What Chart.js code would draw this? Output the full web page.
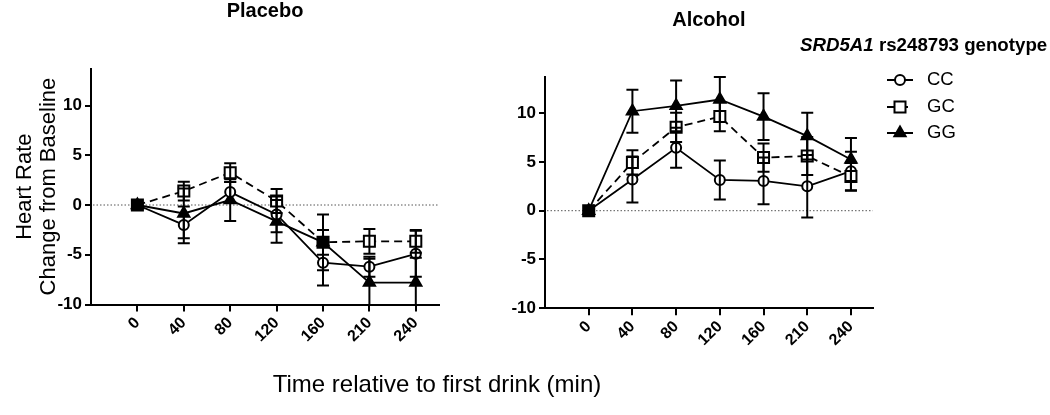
<!DOCTYPE html>
<html>
<head>
<meta charset="utf-8">
<title>Heart rate change from baseline</title>
<script src="https://cdn.jsdelivr.net/npm/chart.js@4.4.0/dist/chart.umd.min.js"></script>
<style>
	body {
		margin: 0;
		background: #fff;
		width: 1050px;
		height: 415px;
		position: relative;
		overflow: hidden;
		font-family: "Liberation Sans", Arial, sans-serif;
	}

	.panel {
		position: absolute;
		top: 0;
		height: 415px;
	}

	#left { left: 0; width: 460px; }
	#right { left: 450px; width: 600px; }

	#xtitle {
		position: absolute;
		left: 0;
		width: 874px;
		top: 370px;
		line-height: 28px;
		text-align: center;
		font-size: 24px;
		color: #000;
	}
</style>
</head>

<body>
	<div class="panel" id="left"><canvas id="placebo"></canvas></div>
	<div class="panel" id="right"><canvas id="alcohol"></canvas></div>
	<div id="xtitle">Time relative to first drink (min)</div>

	<script>
		// tempos (min)
		const times = ['0', '40', '80', '120', '160', '210', '240'];
		const yTicks = [-10, -5, 0, 5, 10];

		// Placebo - media
		const placeboCC = [0, -2.0, 1.3, -0.95, -5.8, -6.2, -4.9];
		const placeboGC = [0, 1.4, 3.25, 0.4, -3.75, -3.65, -3.65];
		const placeboGG = [0, -0.85, 0.5, -1.65, -3.75, -7.8, -7.8];
		// Placebo - erro padrao
		const placeboCCerr = [0, 1.85, 1.0, 1.8, 2.3, 1.0, 2.3];
		const placeboGCerr = [0, 0.95, 0.95, 1.2, 1.25, 1.25, 1.15];
		const placeboGGerr = [0, 2.5, 2.1, 2.15, 2.8, 2.4, 2.5];

		// Alcohol - media
		const alcoholCC = [0, 3.2, 6.45, 3.15, 3.05, 2.5, 4.05];
		const alcoholGC = [0, 4.95, 8.55, 9.65, 5.45, 5.6, 3.5];
		const alcoholGG = [0, 10.2, 10.75, 11.4, 9.65, 7.65, 5.25];
		// Alcohol - erro padrao
		const alcoholCCerr = [0, 2.35, 2.05, 2.0, 2.4, 3.2, 2.0];
		const alcoholGCerr = [0, 1.25, 1.5, 1.5, 1.45, 1.95, 1.4];
		const alcoholGGerr = [0, 2.2, 2.6, 2.3, 2.4, 2.4, 2.2];

		const FONT = '"Liberation Sans", Arial, sans-serif';

		// barras de erro, desenhadas depois das linhas
		const errorBars = {
			id: 'errorBars',
			afterDatasetsDraw(chart) {
				const { ctx, chartArea, scales: { x, y } } = chart;
				ctx.save();
				ctx.beginPath();
				ctx.rect(chartArea.left, chartArea.top - 20, chartArea.width, chartArea.height + 20);
				ctx.clip();
				ctx.strokeStyle = '#000';
				ctx.lineWidth = 2;
				chart.data.datasets.forEach(ds => {
					ds.data.forEach((p, i) => {
						const e = ds.errors[i];
						if (!e) return;
						const px = x.getPixelForValue(p.x);
						const yTop = y.getPixelForValue(p.y + e);
						const yBot = y.getPixelForValue(p.y - e);
						ctx.beginPath();
						ctx.moveTo(px, yTop); ctx.lineTo(px, yBot);
						ctx.moveTo(px - 6, yTop); ctx.lineTo(px + 6, yTop);
						ctx.moveTo(px - 6, yBot); ctx.lineTo(px + 6, yBot);
						ctx.stroke();
					});
				});
				ctx.restore();
			}
		};

		// linha pontilhada no zero
		const zeroLine = {
			id: 'zeroLine',
			beforeDatasetsDraw(chart) {
				const { ctx, chartArea, scales: { y } } = chart;
				const py = y.getPixelForValue(0);
				ctx.save();
				ctx.strokeStyle = '#555';
				ctx.lineWidth = 1;
				ctx.setLineDash([1.5, 2]);
				ctx.beginPath();
				ctx.moveTo(chartArea.left + 2, py);
				ctx.lineTo(chartArea.right, py);
				ctx.stroke();
				ctx.restore();
			}
		};

		// titulo centrado na area do grafico
		const panelTitle = {
			id: 'panelTitle',
			afterDraw(chart, args, opts) {
				const { ctx, chartArea } = chart;
				ctx.save();
				ctx.font = 'bold 20px ' + FONT;
				ctx.fillStyle = '#000';
				ctx.textAlign = 'center';
				ctx.textBaseline = 'middle';
				ctx.fillText(opts.text, (chartArea.left + chartArea.right) / 2, chartArea.top - 57);
				ctx.restore();
			}
		};

		function drawMarker(ctx, style, x, y) {
			ctx.save();
			ctx.setLineDash([]);
			ctx.lineWidth = 2;
			ctx.strokeStyle = '#000';
			ctx.fillStyle = style.fill;
			ctx.beginPath();
			if (style.shape === 'circle') {
				ctx.arc(x, y, 5, 0, Math.PI * 2);
			} else if (style.shape === 'rect') {
				ctx.rect(x - 5.5, y - 5.5, 11, 11);
			} else {
				ctx.moveTo(x, y - 6.5);
				ctx.lineTo(x + 5.6, y + 3.25);
				ctx.lineTo(x - 5.6, y + 3.25);
				ctx.closePath();
			}
			ctx.fill();
			ctx.stroke();
			ctx.restore();
		}

		// legenda do lado direito
		const genotypeLegend = {
			id: 'genotypeLegend',
			afterDraw(chart) {
				const { ctx } = chart;
				ctx.save();
				ctx.fillStyle = '#000';
				ctx.textBaseline = 'middle';
				ctx.textAlign = 'left';
				ctx.font = 'italic bold 18.7px ' + FONT;
				ctx.fillText('SRD5A1', 350, 46);
				const w = ctx.measureText('SRD5A1').width;
				ctx.font = 'bold 18.7px ' + FONT;
				ctx.fillText(' rs248793 genotype', 350 + w, 46);

				const entries = [
					{ label: 'CC', shape: 'circle', fill: '#fff', dash: [], y: 80 },
					{ label: 'GC', shape: 'rect', fill: '#fff', dash: [8, 5], y: 107 },
					{ label: 'GG', shape: 'triangle', fill: '#000', dash: [], y: 133 }
				];
				entries.forEach(en => {
					ctx.strokeStyle = '#000';
					ctx.lineWidth = 2;
					ctx.setLineDash(en.dash);
					ctx.beginPath();
					ctx.moveTo(437, en.y);
					ctx.lineTo(463, en.y);
					ctx.stroke();
					drawMarker(ctx, en, 450, en.y);
					ctx.font = '18.5px ' + FONT;
					ctx.fillText(en.label, 477, en.y);
				});
				ctx.restore();
			}
		};

		function series(values, errors, style) {
			return Object.assign({
				data: values.map((v, i) => ({ x: i, y: v })),
				errors: errors,
				borderColor: '#000',
				borderWidth: 1.8,
				pointBorderColor: '#000',
				pointBorderWidth: 2,
				tension: 0
			}, style);
		}

		function makeDatasets(cc, ccErr, gc, gcErr, gg, ggErr) {
			// quadrado preenchido onde GC e GG se sobrepoem
			const gcFill = gc.map((v, i) => Math.abs(v - gg[i]) < 0.3 ? '#000' : '#fff');
			return [
				series(cc, ccErr, { label: 'CC', order: 1, pointStyle: 'circle', pointRadius: 5, pointBackgroundColor: '#fff' }),
				series(gc, gcErr, { label: 'GC', order: 0, pointStyle: 'rect', pointRadius: 7.8, pointBackgroundColor: gcFill, borderDash: [8, 5] }),
				series(gg, ggErr, { label: 'GG', order: 2, pointStyle: 'triangle', pointRadius: 6.5, pointBackgroundColor: '#000' })
			];
		}

		function makeOptions(title, pad, yWidth, yTitle) {
			return {
				responsive: true,
				maintainAspectRatio: false,
				animation: false,
				layout: { padding: pad },
				plugins: {
					legend: { display: false },
					tooltip: { enabled: false },
					panelTitle: { text: title }
				},
				scales: {
					x: {
						type: 'linear',
						min: -1,
						max: 6.5,
						afterBuildTicks: s => { s.ticks = times.map((t, i) => ({ value: i })); },
						afterFit: s => { s.height = 60; },
						grid: { drawOnChartArea: false, drawTicks: true, tickLength: 7, color: '#000', lineWidth: 2 },
						border: { color: '#000', width: 2 },
						ticks: {
							minRotation: 45,
							maxRotation: 45,
							padding: 2,
							color: '#000',
							font: { family: FONT, size: 16, weight: 'bold' },
							callback: v => times[v]
						}
					},
					y: {
						min: -10,
						max: 13.7,
						afterBuildTicks: s => { s.ticks = yTicks.map(v => ({ value: v })); },
						afterFit: s => { s.width = yWidth; },
						grid: { drawOnChartArea: false, drawTicks: true, tickLength: 6, color: '#000', lineWidth: 2 },
						border: { color: '#000', width: 2 },
						ticks: {
							padding: 3,
							color: '#000',
							font: { family: FONT, size: 17, weight: 'bold' }
						},
						title: {
							display: !!yTitle,
							text: yTitle,
							color: '#000',
							padding: { top: 13, bottom: 0 },
							font: { family: FONT, size: 22, lineHeight: 1.1 }
						}
					}
				}
			};
		}

		new Chart(document.getElementById('placebo'), {
			type: 'line',
			data: { datasets: makeDatasets(placeboCC, placeboCCerr, placeboGC, placeboGCerr, placeboGG, placeboGGerr) },
			options: makeOptions('Placebo', { left: 0, top: 68.7, right: 21, bottom: 50.5 }, 91, ['Heart Rate', 'Change from Baseline']),
			plugins: [zeroLine, errorBars, panelTitle]
		});

		new Chart(document.getElementById('alcohol'), {
			type: 'line',
			data: { datasets: makeDatasets(alcoholCC, alcoholCCerr, alcoholGC, alcoholGCerr, alcoholGG, alcoholGGerr) },
			options: makeOptions('Alcohol', { left: 0, top: 77.1, right: 177.2, bottom: 46.8 }, 95, ''),
			plugins: [zeroLine, errorBars, panelTitle, genotypeLegend]
		});
	</script>
</body>

</html>
